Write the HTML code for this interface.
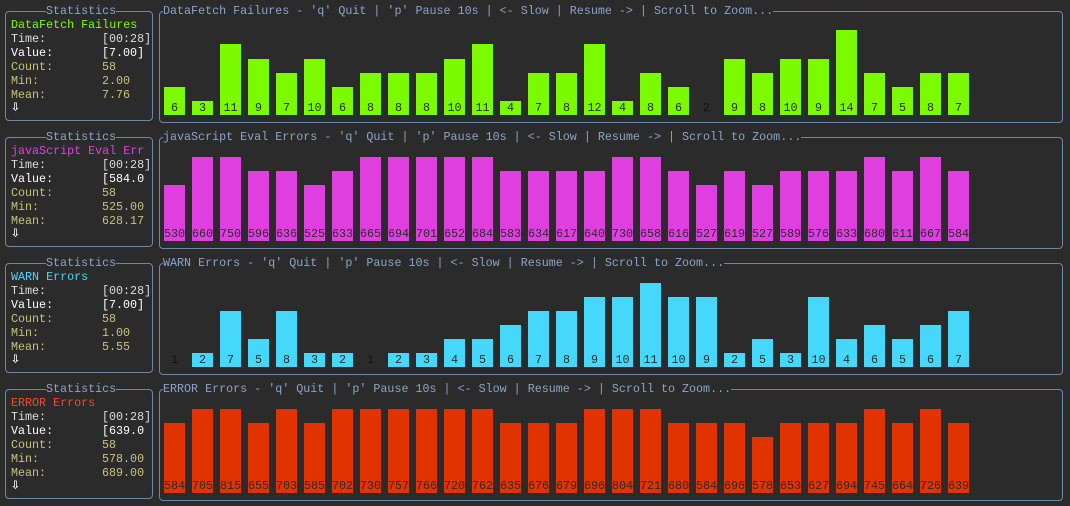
<!DOCTYPE html>
<html><head><meta charset="utf-8"><style>
*{margin:0;padding:0;box-sizing:border-box}
body{width:1070px;height:506px;background:#2b2b2c;font-family:"Liberation Mono",monospace;font-size:11.7px;line-height:14px;position:relative;overflow:hidden;color:#ccc}
.sb{position:absolute;left:5px;width:148px;height:110px;border:1px solid #6f86a8;border-radius:4px}
.st{position:absolute;left:40px;top:-8px;background:#2b2b2c;color:#8aa4c8;padding:0 0px}
.sl{position:absolute;left:5px;white-space:pre}
.v{position:absolute;left:96px;white-space:pre}
.cb{position:absolute;left:159px;width:904px;height:112px;border:1px solid #6f86a8;border-radius:4px}
.ct{position:absolute;left:3px;top:-8px;background:#2b2b2c;color:#8aa4c8;white-space:pre}
.bars{position:absolute;left:164px;display:flex;align-items:flex-end;height:100px}
.bars i{font-style:normal;display:block;width:21px;margin-right:7px;text-align:center;color:#2b2b2b;display:flex;align-items:flex-end;justify-content:center}
.bars i.z{background:none!important;height:14px;color:#111}
.g i{background:#7cfa00}.m i{background:#e03fe0}.c i{background:#45d8fa}.r i{background:#e03300}
.w{color:#fff}.y{color:#c9c27a}.l{color:#ddd}
.ar{font-size:15px;font-weight:bold;color:#fff}
</style></head><body>

<div class="sb" style="top:11px"><span class="st">Statistics</span>
<div class="sl" style="top:6px;color:#7cfa00">DataFetch Failures</div>
<div class="sl l" style="top:20px">Time:</div><div class="v l" style="top:20px">[00:28]</div>
<div class="sl w" style="top:34px">Value:</div><div class="v w" style="top:34px">[7.00]</div>
<div class="sl y" style="top:48px">Count:</div><div class="v y" style="top:48px">58</div>
<div class="sl y" style="top:62px">Min:</div><div class="v y" style="top:62px">2.00</div>
<div class="sl y" style="top:76px">Mean:</div><div class="v y" style="top:76px">7.76</div>
<div class="sl ar" style="top:89px">⇩</div></div>
<div class="cb" style="top:11px"><span class="ct">DataFetch Failures - 'q' Quit | 'p' Pause 10s | &lt;- Slow | Resume -&gt; | Scroll to Zoom...</span></div>
<div class="bars g" style="top:15px">
<i style="height:28px">6</i><i style="height:14px">3</i><i style="height:71px">11</i><i style="height:56px">9</i><i style="height:42px">7</i><i style="height:56px">10</i><i style="height:28px">6</i><i style="height:42px">8</i><i style="height:42px">8</i><i style="height:42px">8</i><i style="height:56px">10</i><i style="height:71px">11</i><i style="height:14px">4</i><i style="height:42px">7</i><i style="height:42px">8</i><i style="height:71px">12</i><i style="height:14px">4</i><i style="height:42px">8</i><i style="height:28px">6</i><i class="z">2</i><i style="height:56px">9</i><i style="height:42px">8</i><i style="height:56px">10</i><i style="height:56px">9</i><i style="height:85px">14</i><i style="height:42px">7</i><i style="height:28px">5</i><i style="height:42px">8</i><i style="height:42px">7</i></div>

<div class="sb" style="top:137px"><span class="st">Statistics</span>
<div class="sl" style="top:6px;color:#e03fe0">javaScript Eval Err</div>
<div class="sl l" style="top:20px">Time:</div><div class="v l" style="top:20px">[00:28]</div>
<div class="sl w" style="top:34px">Value:</div><div class="v w" style="top:34px">[584.0</div>
<div class="sl y" style="top:48px">Count:</div><div class="v y" style="top:48px">58</div>
<div class="sl y" style="top:62px">Min:</div><div class="v y" style="top:62px">525.00</div>
<div class="sl y" style="top:76px">Mean:</div><div class="v y" style="top:76px">628.17</div>
<div class="sl ar" style="top:89px">⇩</div></div>
<div class="cb" style="top:137px"><span class="ct">javaScript Eval Errors - 'q' Quit | 'p' Pause 10s | &lt;- Slow | Resume -&gt; | Scroll to Zoom...</span></div>
<div class="bars m" style="top:141px">
<i style="height:56px">530</i><i style="height:84px">660</i><i style="height:84px">750</i><i style="height:70px">596</i><i style="height:70px">636</i><i style="height:56px">525</i><i style="height:70px">633</i><i style="height:84px">665</i><i style="height:84px">694</i><i style="height:84px">701</i><i style="height:84px">652</i><i style="height:84px">684</i><i style="height:70px">583</i><i style="height:70px">634</i><i style="height:70px">617</i><i style="height:70px">640</i><i style="height:84px">730</i><i style="height:84px">658</i><i style="height:70px">616</i><i style="height:56px">527</i><i style="height:70px">619</i><i style="height:56px">527</i><i style="height:70px">589</i><i style="height:70px">576</i><i style="height:70px">633</i><i style="height:84px">680</i><i style="height:70px">611</i><i style="height:84px">667</i><i style="height:70px">584</i></div>

<div class="sb" style="top:263px"><span class="st">Statistics</span>
<div class="sl" style="top:6px;color:#45d8fa">WARN Errors</div>
<div class="sl l" style="top:20px">Time:</div><div class="v l" style="top:20px">[00:28]</div>
<div class="sl w" style="top:34px">Value:</div><div class="v w" style="top:34px">[7.00]</div>
<div class="sl y" style="top:48px">Count:</div><div class="v y" style="top:48px">58</div>
<div class="sl y" style="top:62px">Min:</div><div class="v y" style="top:62px">1.00</div>
<div class="sl y" style="top:76px">Mean:</div><div class="v y" style="top:76px">5.55</div>
<div class="sl ar" style="top:89px">⇩</div></div>
<div class="cb" style="top:263px"><span class="ct">WARN Errors - 'q' Quit | 'p' Pause 10s | &lt;- Slow | Resume -&gt; | Scroll to Zoom...</span></div>
<div class="bars c" style="top:267px">
<i class="z">1</i><i style="height:14px">2</i><i style="height:56px">7</i><i style="height:28px">5</i><i style="height:56px">8</i><i style="height:14px">3</i><i style="height:14px">2</i><i class="z">1</i><i style="height:14px">2</i><i style="height:14px">3</i><i style="height:28px">4</i><i style="height:28px">5</i><i style="height:42px">6</i><i style="height:56px">7</i><i style="height:56px">8</i><i style="height:70px">9</i><i style="height:70px">10</i><i style="height:84px">11</i><i style="height:70px">10</i><i style="height:70px">9</i><i style="height:14px">2</i><i style="height:28px">5</i><i style="height:14px">3</i><i style="height:70px">10</i><i style="height:28px">4</i><i style="height:42px">6</i><i style="height:28px">5</i><i style="height:42px">6</i><i style="height:56px">7</i></div>

<div class="sb" style="top:389px"><span class="st">Statistics</span>
<div class="sl" style="top:6px;color:#f04a30">ERROR Errors</div>
<div class="sl l" style="top:20px">Time:</div><div class="v l" style="top:20px">[00:28]</div>
<div class="sl w" style="top:34px">Value:</div><div class="v w" style="top:34px">[639.0</div>
<div class="sl y" style="top:48px">Count:</div><div class="v y" style="top:48px">58</div>
<div class="sl y" style="top:62px">Min:</div><div class="v y" style="top:62px">578.00</div>
<div class="sl y" style="top:76px">Mean:</div><div class="v y" style="top:76px">689.00</div>
<div class="sl ar" style="top:89px">⇩</div></div>
<div class="cb" style="top:389px"><span class="ct">ERROR Errors - 'q' Quit | 'p' Pause 10s | &lt;- Slow | Resume -&gt; | Scroll to Zoom...</span></div>
<div class="bars r" style="top:393px">
<i style="height:70px">584</i><i style="height:84px">705</i><i style="height:84px">815</i><i style="height:70px">655</i><i style="height:84px">703</i><i style="height:70px">585</i><i style="height:84px">702</i><i style="height:84px">730</i><i style="height:84px">757</i><i style="height:84px">766</i><i style="height:84px">720</i><i style="height:84px">762</i><i style="height:70px">635</i><i style="height:70px">676</i><i style="height:70px">679</i><i style="height:84px">696</i><i style="height:84px">804</i><i style="height:84px">721</i><i style="height:70px">680</i><i style="height:70px">584</i><i style="height:70px">696</i><i style="height:56px">578</i><i style="height:70px">653</i><i style="height:70px">627</i><i style="height:70px">694</i><i style="height:84px">745</i><i style="height:70px">664</i><i style="height:84px">726</i><i style="height:70px">639</i></div>

</body></html>
